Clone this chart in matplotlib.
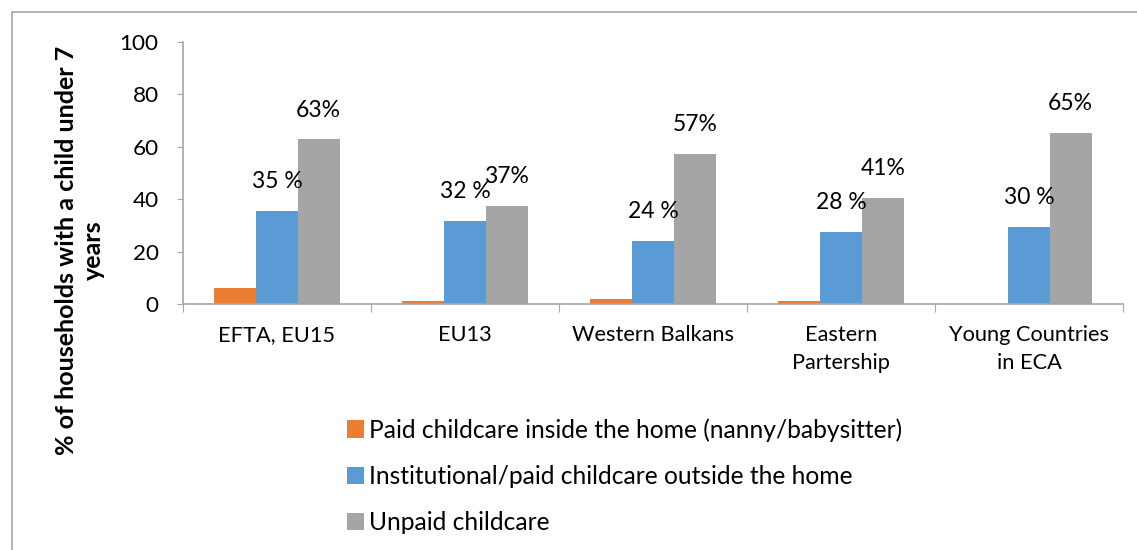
import matplotlib.pyplot as plt
from matplotlib.patches import Rectangle, Patch
import numpy as np

# Data
regions = ["EFTA, EU15", "EU13", "Western Balkans", "Eastern\nPartership", "Young Countries\nin ECA"]
series_names = [
    "Paid childcare inside the home (nanny/babysitter)",
    "Institutional/paid childcare outside the home",
    "Unpaid childcare",
]
paid_inside = [6.2, 1.3, 1.8, 1.3, 0.0]
institutional = [35.5, 31.8, 24.0, 27.6, 29.5]
unpaid = [62.9, 37.5, 57.3, 40.5, 65.4]
institutional_labels = ["35 %", "32 %", "24 %", "28 %", "30 %"]
unpaid_labels = ["63%", "37%", "57%", "41%", "65%"]
y_title = "% of households with a child under 7\nyears"

colors = ["#ED7D31", "#5B9BD5", "#A5A5A5"]
axis_grey = "#A6A6A6"

plt.rcParams["font.family"] = ["Lato", "DejaVu Sans"]

W, H = 1137, 550
fig = plt.figure(figsize=(W / 100, H / 100), dpi=100)
renderer = fig.canvas.get_renderer()


def fit_size(s, target_px, weight="normal"):
    # font size that makes string s about target_px wide
    t = fig.text(0, 0, s, fontsize=10, fontweight=weight)
    w = t.get_window_extent(renderer).width
    t.remove()
    return 10 * target_px / w


fs_tick = fit_size("100", 39)
fs_cat = fit_size("EFTA, EU15", 116)
fs_lab = fit_size("63%", 45)
fs_leg = fit_size(series_names[1], 485)
fs_title = fit_size(y_title.split("\n")[0], 410, "bold")

# outer chart frame (runs off the right/bottom edge like the reference)
fig.patches.append(Rectangle((12 / W, -0.2), 1.2, 1.2 - 12 / H,
                             transform=fig.transFigure, fill=False,
                             edgecolor=axis_grey, linewidth=1.2))

ax = fig.add_axes([183 / W, 1 - 304 / H, (1123 - 183) / W, (304 - 42) / H])

x = np.arange(len(regions))
w = 0.222
ax.bar(x - w, paid_inside, w, color=colors[0])
b_inst = ax.bar(x, institutional, w, color=colors[1])
b_unp = ax.bar(x + w, unpaid, w, color=colors[2])

for bars, labels in [(b_inst, institutional_labels), (b_unp, unpaid_labels)]:
    for bar, lab in zip(bars, labels):
        ax.annotate(lab, (bar.get_x() + bar.get_width() / 2, bar.get_height()),
                    xytext=(0, 21), textcoords="offset points",
                    ha="center", va="center", fontsize=fs_lab)

ax.set_xlim(-0.5, len(regions) - 0.5)
ax.set_ylim(0, 100)
ax.set_yticks(range(0, 101, 20))
ax.tick_params(axis="y", labelsize=fs_tick, length=4.5, color=axis_grey, pad=13)

# group boundary ticks + centred category labels
ax.set_xticks(np.arange(-0.5, len(regions), 1.0))
ax.set_xticklabels([])
ax.set_xticks(x, minor=True)
ax.set_xticklabels(regions, minor=True, fontsize=fs_cat, linespacing=1.5)
ax.tick_params(axis="x", which="major", length=6, color=axis_grey)
ax.tick_params(axis="x", which="minor", length=0, pad=15)

for s in ["top", "right"]:
    ax.spines[s].set_visible(False)
for s in ["left", "bottom"]:
    ax.spines[s].set_color(axis_grey)
    ax.spines[s].set_linewidth(1.2)

# y title sits low, like Excel pushes a long title inside the chart area
fig.text(80 / W, 1 - 250 / H, y_title, rotation=90, ha="center", va="center",
         multialignment="center", fontsize=fs_title, fontweight="bold",
         linespacing=1.2)

handles = [Patch(facecolor=c) for c in colors]
fig.legend(handles, series_names, loc="upper left",
           bbox_to_anchor=(347 / W, 1 - 418 / H), frameon=False,
           fontsize=fs_leg, handlelength=0.7, handleheight=0.7,
           handletextpad=0.2, labelspacing=0.95, borderpad=0, borderaxespad=0)

fig.savefig("out.png", dpi=100)
